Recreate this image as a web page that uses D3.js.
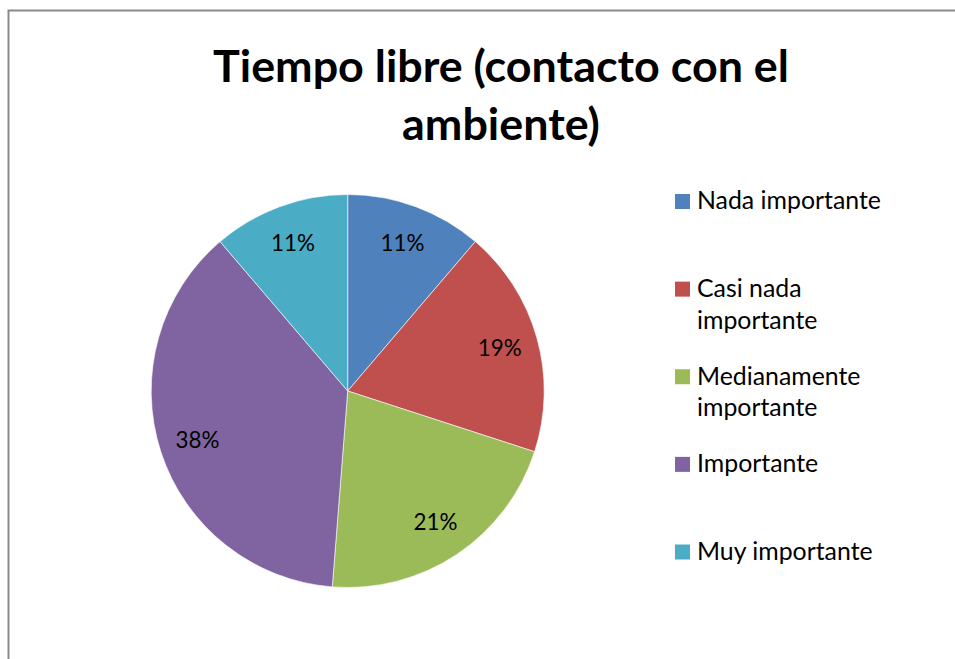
<!DOCTYPE html>
<html>
<head>
<meta charset="utf-8">
<script src="https://cdn.jsdelivr.net/npm/d3@7"></script>
<style>
  html, body { margin: 0; padding: 0; background: #fff; }
  svg { display: block; }
</style>
</head>
<body>
<svg id="chart" width="955" height="659"></svg>
<script>
// data
const categories = ["Nada importante", "Casi nada importante", "Medianamente importante", "Importante", "Muy importante"];
const values = [9, 15, 17, 30, 9];
const colors = ["#4F81BD", "#C0504D", "#9BBB59", "#8064A2", "#4BACC6"];
const titleLines = ["Tiempo libre (contacto con el", "ambiente)"];

const W = 955, H = 659;
const cx = 347.7, cy = 391, radius = 196.5;
const fontFam = "Lato, 'Open Sans', sans-serif";

const svg = d3.select("#chart");

// outer frame (goes past right / bottom edge)
svg.append("rect")
  .attr("x", 8.5).attr("y", 10.5)
  .attr("width", W + 20).attr("height", H + 20)
  .attr("fill", "#fff")
  .attr("stroke", "#8a8a8a")
  .attr("stroke-width", 2);

// fit a font size so text has a given width
function fitSize(text, weight, target) {
  const t = svg.append("text")
    .style("font-family", fontFam).style("font-weight", weight)
    .style("font-size", "40px").text(text);
  const w = t.node().getComputedTextLength();
  t.remove();
  return 40 * target / w;
}

// title
const titleSize = fitSize(titleLines[0], "bold", 576);
svg.append("g").selectAll("text")
  .data(titleLines).enter()
  .append("text")
  .attr("x", 501)
  .attr("y", (d, i) => 82 + i * 58)
  .attr("text-anchor", "middle")
  .style("font-family", fontFam)
  .style("font-weight", "bold")
  .style("font-size", titleSize + "px")
  .style("fill", "#000")
  .text(d => d);

// pie
const total = d3.sum(values);
const pie = d3.pie().sort(null).value(d => d)(values);
const arc = d3.arc().innerRadius(0).outerRadius(radius);
const labelArc = d3.arc().innerRadius(158).outerRadius(158);

const g = svg.append("g").attr("transform", "translate(" + cx + "," + cy + ")");

g.selectAll("path")
  .data(pie).enter()
  .append("path")
  .attr("d", arc)
  .attr("fill", (d, i) => colors[i])
  .attr("stroke", "#fff")
  .attr("stroke-width", 0.6);

const labelSize = fitSize("11%", "normal", 44);
g.selectAll("text.lbl")
  .data(pie).enter()
  .append("text")
  .attr("class", "lbl")
  .attr("transform", d => "translate(" + labelArc.centroid(d) + ")")
  .attr("text-anchor", "middle")
  .attr("dy", "0.35em")
  .style("font-family", fontFam)
  .style("font-size", labelSize + "px")
  .style("fill", "#000")
  .text(d => Math.round(d.value / total * 100) + "%");

// legend
const legSize = fitSize("Nada importante", "normal", 184);
const legend = svg.append("g");
const legY = d3.scalePoint().domain(categories).range([201.5, 552]);

function wrapLines(text, maxW) {
  const words = text.split(" ");
  const lines = [];
  let cur = "";
  const t = svg.append("text").style("font-family", fontFam).style("font-size", legSize + "px");
  words.forEach(w => {
    const test = cur ? cur + " " + w : w;
    t.text(test);
    if (t.node().getComputedTextLength() > maxW && cur) {
      lines.push(cur);
      cur = w;
    } else {
      cur = test;
    }
  });
  lines.push(cur);
  t.remove();
  return lines;
}

categories.forEach((c, i) => {
  const y = legY(c);
  legend.append("rect")
    .attr("x", 675).attr("y", y - 7.5)
    .attr("width", 15).attr("height", 15)
    .attr("fill", colors[i]);
  const lines = wrapLines(c, 200);
  legend.append("g").selectAll("text")
    .data(lines).enter()
    .append("text")
    .attr("x", 697)
    .attr("y", (d, k) => y + 7.8 + k * 31.6)
    .style("font-family", fontFam)
    .style("font-size", legSize + "px")
    .style("fill", "#000")
    .text(d => d);
});
</script>
</body>
</html>
